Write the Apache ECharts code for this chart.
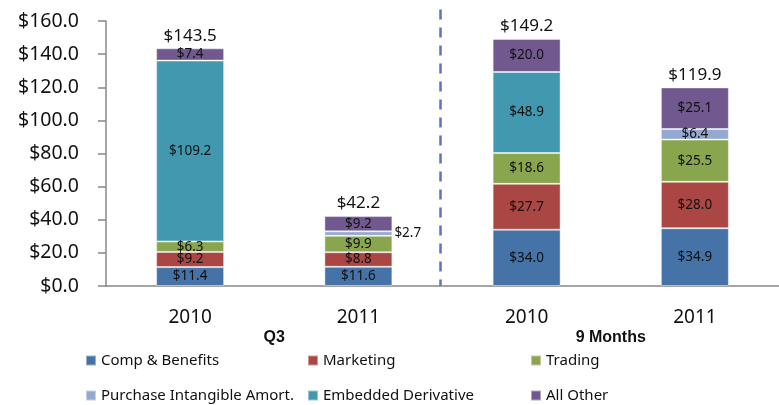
<!DOCTYPE html>
<html>
<head>
<meta charset="utf-8">
<script src="https://cdn.jsdelivr.net/npm/echarts@6/dist/echarts.min.js"></script>
<style>
  body { margin: 0; background: #fff; }
  #chart { width: 779px; height: 405px; }
</style>
</head>
<body>
<div id="chart"></div>
<script>
// categories / groups
const years = ["2010", "2011", "2010", "2011"];
const groups = ["Q3", "9 Months"];

// series values (null = no segment)
const compBenefits = [11.4, 11.6, 34.0, 34.9];
const marketing = [9.2, 8.8, 27.7, 28.0];
const trading = [6.3, 9.9, 18.6, 25.5];
const purchaseAmort = [null, 2.7, null, 6.4];
const embeddedDeriv = [109.2, null, 48.9, null];
const allOther = [7.4, 9.2, 20.0, 25.1];
const totals = [143.5, 42.2, 149.2, 119.9];

const seriesNames = [
  "Comp & Benefits",
  "Marketing",
  "Trading",
  "Purchase Intangible Amort.",
  "Embedded Derivative",
  "All Other"
];
const seriesData = [compBenefits, marketing, trading, purchaseAmort, embeddedDeriv, allOther];
const colors = ["#4572A7", "#AA4643", "#89A54E", "#93A9D0", "#4198AF", "#71588F"];

const font = "Noto Sans";
const money = v => "$" + Number(v).toFixed(1);

let series = seriesNames.map((name, i) => ({
  name: name,
  type: "bar",
  stack: "cost",
  barWidth: 68,
  data: seriesData[i].map((v, j) => {
    if (v == null) return "-";
    // the small Q3 2011 amortization label sits beside the bar
    if (i == 3 && j == 1) {
      return { value: v, label: { position: "right", distance: 2 } };
    }
    return v;
  }),
  itemStyle: {
    color: colors[i],
    borderColor: "rgba(255,255,255,0.45)",
    borderWidth: 1
  },
  label: {
    show: true,
    position: "inside",
    formatter: p => money(p.value),
    fontFamily: font,
    fontSize: 13.5,
    color: "#111"
  }
}));

// totals on top of each column
series.push({
  name: "Total",
  type: "bar",
  barWidth: 68,
  barGap: "-100%",
  z: 1,
  silent: true,
  data: totals,
  itemStyle: { color: "rgba(0,0,0,0)" },
  label: {
    show: true,
    position: "top",
    distance: 4,
    formatter: p => money(p.value),
    fontFamily: font,
    fontSize: 17,
    color: "#111"
  }
});

// one legend per item so the columns line up like the original
const legendCols = [85, 307, 530];
const legendRows = [353, 388];
let legends = seriesNames.map((name, i) => ({
  data: [name],
  left: legendCols[i % 3],
  top: legendRows[Math.floor(i / 3)],
  padding: 0,
  icon: "rect",
  itemWidth: 10,
  itemHeight: 10,
  selectedMode: false,
  textStyle: { fontFamily: font, fontSize: 15, color: "#111" }
}));

let option = {
  animation: false,
  grid: { left: 106, top: 21, width: 686, height: 265 },
  legend: legends,
  xAxis: [
    {
      type: "category",
      data: years,
      axisLine: { lineStyle: { color: "#888", width: 1.5 } },
      axisTick: { length: 8, lineStyle: { color: "#888", width: 1.5 } },
      axisLabel: { margin: 22, fontFamily: font, fontSize: 19, color: "#111" }
    },
    {
      type: "category",
      position: "bottom",
      data: groups,
      axisLine: { show: false },
      axisTick: { show: false },
      axisLabel: {
        margin: 44,
        fontFamily: "Liberation Sans",
        fontWeight: "bold",
        fontSize: 16,
        color: "#111"
      }
    }
  ],
  yAxis: {
    type: "value",
    min: 0,
    max: 160,
    interval: 20,
    splitLine: { show: false },
    axisLine: { show: true, lineStyle: { color: "#888", width: 1.5 } },
    axisTick: { show: true, length: 8, lineStyle: { color: "#888", width: 1.5 } },
    axisLabel: {
      margin: 27,
      formatter: v => money(v),
      fontFamily: font,
      fontSize: 19.5,
      color: "#111"
    }
  },
  series: series
};

let chart = echarts.init(document.getElementById("chart"));
chart.setOption(option);

// dashed divider between Q3 and 9 Months
let x1 = chart.convertToPixel({ xAxisIndex: 0 }, 1);
let x2 = chart.convertToPixel({ xAxisIndex: 0 }, 2);
let xMid = (x1 + x2) / 2 - 2;
let yTop = chart.convertToPixel({ yAxisIndex: 0 }, 167);
let yBottom = chart.convertToPixel({ yAxisIndex: 0 }, 0);
chart.setOption({
  graphic: [{
    type: "line",
    shape: { x1: xMid, y1: yTop, x2: xMid, y2: yBottom },
    style: { stroke: "#5B75BD", lineWidth: 2.5, lineDash: [10, 8] }
  }]
});
</script>
</body>
</html>
